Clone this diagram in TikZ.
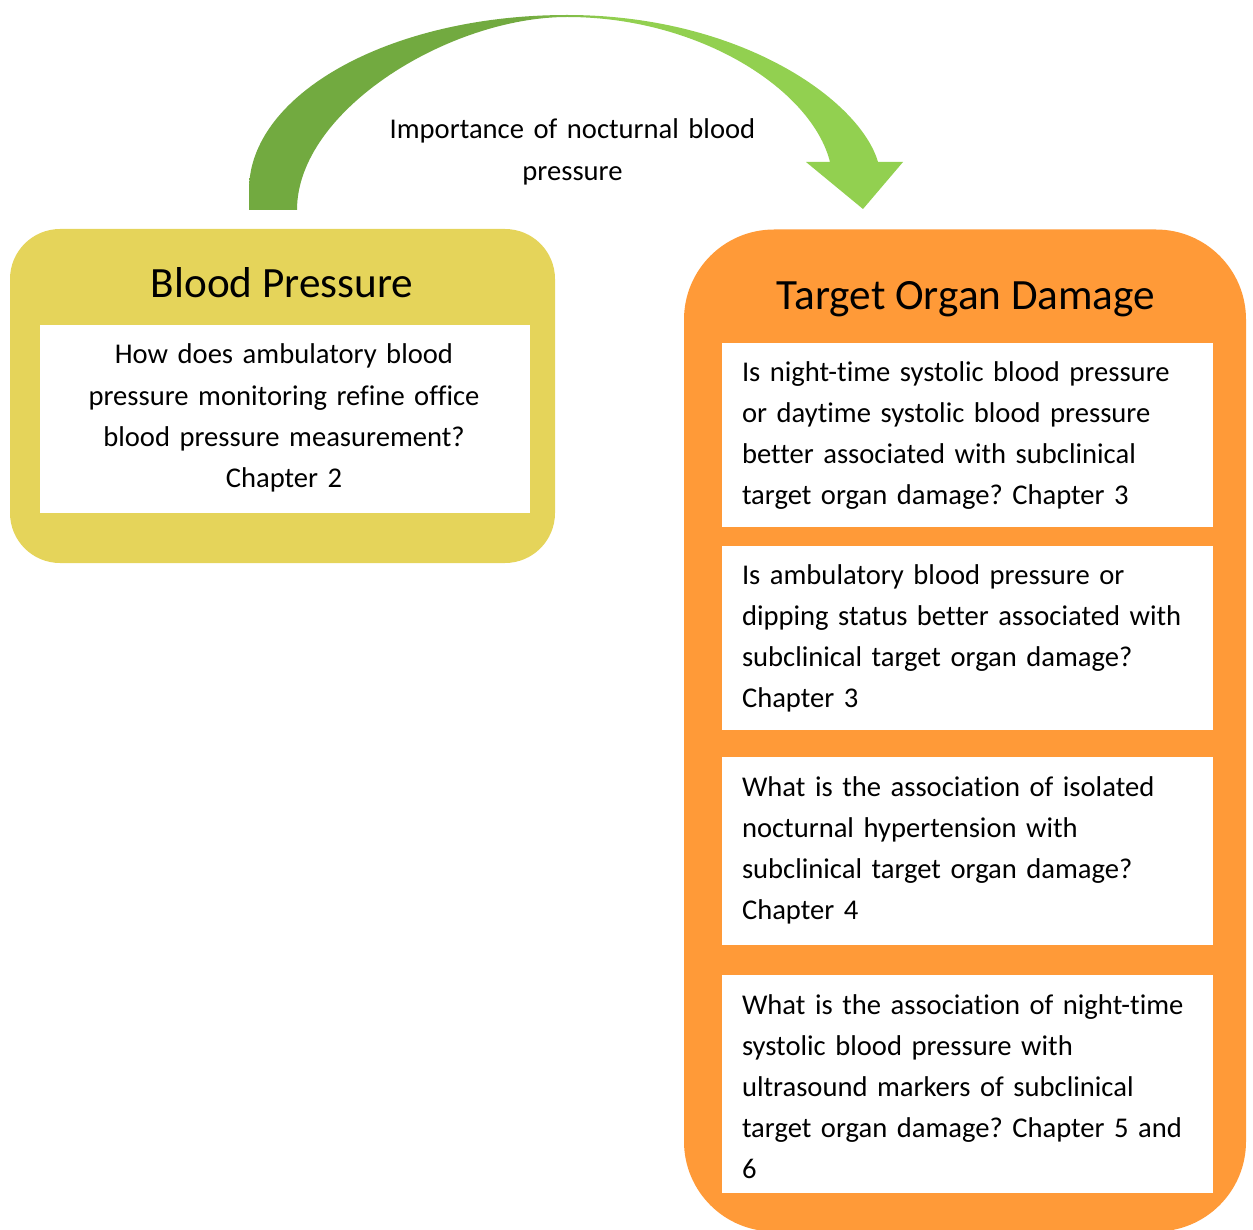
\documentclass[tikz,border=0pt]{standalone}
\usepackage{fontspec}
\setmainfont{Carlito}[Ligatures={NoCommon}]
\frenchspacing
\definecolor{bpyellow}{RGB}{229,212,90}
\definecolor{todorange}{RGB}{255,154,56}
\definecolor{gdark}{RGB}{114,170,64}
\definecolor{glight}{RGB}{146,208,80}
\pgfdeclarehorizontalshading{arrowshade}{100bp}{color(0bp)=(gdark); color(46bp)=(gdark); color(53bp)=(glight); color(100bp)=(glight)}
\begin{document}
\frenchspacing
\begin{tikzpicture}[x=0.5pt,y=-0.5pt,
  panel/.style={draw=none, inner sep=0pt, outer sep=0pt},
  whitebox/.style={fill=white, draw=none, inner sep=0pt, outer sep=0pt, minimum width=245.5pt},
  bodytext/.style={font=\fontsize{14.3pt}{20.6pt}\selectfont\frenchspacing, inner sep=0pt, outer sep=0pt, text width=240pt},
  titletext/.style={font=\fontsize{21.6pt}{25pt}\selectfont, inner sep=0pt, anchor=base}]
\useasboundingbox (0,0) rectangle (1253,1230);
% panels
\node[panel, fill=bpyellow, rounded corners=25pt, minimum width=272.5pt, minimum height=167pt] (bp) at (282.5,396) {};
\node[panel, fill=todorange, rounded corners=45pt, minimum width=281pt, minimum height=501pt] (tod) at (965,730.5) {};
% white boxes
\node[whitebox, minimum width=245pt, minimum height=94pt] (bpq) at (285,419) {};
\node[whitebox, minimum height=92pt] (q1) at (967.5,435) {};
\node[whitebox, minimum height=92pt] (q2) at (967.5,638) {};
\node[whitebox, minimum height=94pt] (q3) at (967.5,851) {};
\node[whitebox, minimum height=109pt] (q4) at (967.5,1084) {};
% titles
\node[titletext] (bpt) at (282,298) {Blood Pressure};
\node[titletext] (todt) at (966,309) {Target Organ Damage};
% texts
\node[bodytext, align=center, text width=245pt, anchor=base] (bpqt) at (284,364)
  {How does ambulatory blood\\pressure monitoring refine office\\blood pressure measurement?\\Chapter 2};
\node[bodytext, align=left, anchor=base west] (q1t) at (742,381)
  {Is night-time systolic blood pressure\\or daytime systolic blood pressure\\better associated with subclinical\\target organ damage? Chapter 3};
\node[bodytext, align=left, anchor=base west] (q2t) at (742,584)
  {Is ambulatory blood pressure or\\dipping status better associated with\\subclinical target organ damage?\\Chapter 3};
\node[bodytext, align=left, anchor=base west] (q3t) at (742,796)
  {What is the association of isolated\\nocturnal hypertension with\\subclinical target organ damage?\\Chapter 4};
\node[bodytext, align=left, anchor=base west] (q4t) at (742,1014)
  {What is the association of night-time\\systolic blood pressure with\\ultrasound markers of subclinical\\target organ damage? Chapter 5 and\\6};
% curved arrow
\shade[shading=arrowshade] (249,210) -- (249,190)
  arc[start angle=180, end angle=270, x radius=318, y radius=175]
  .. controls (740,15) and (860,100) .. (878,162)
  -- (903,162) -- (863,209) -- (806,162) -- (830,162)
  .. controls (812,90) and (700,17) .. (567,17)
  .. controls (450,17) and (297,110) .. (297,210)
  -- cycle;
\node[bodytext, align=center, text width=260pt, anchor=base] (lbl) at (572.5,139)
  {Importance of nocturnal blood\\pressure};
\end{tikzpicture}
\end{document}
